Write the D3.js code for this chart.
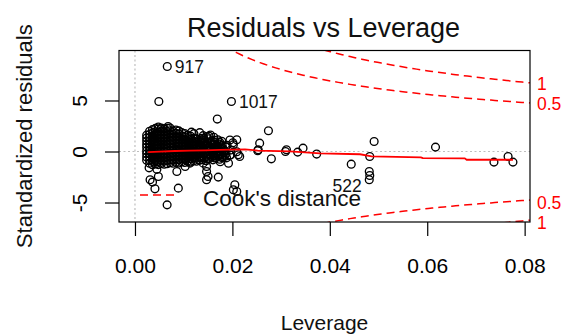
<!DOCTYPE html>
<html><head><meta charset="utf-8">
<script src="https://cdn.jsdelivr.net/npm/d3@7"></script>
<style>
html,body{margin:0;padding:0;background:#fff;}
svg{display:block;font-family:"Liberation Sans",Arial,Helvetica,sans-serif;}
</style></head><body>
<svg id="chart" width="566" height="336"></svg>
<script>
// ---------- values ----------
const xTicks = [0, 0.02, 0.04, 0.06, 0.08];
const xTickLabels = ["0.00", "0.02", "0.04", "0.06", "0.08"];
const yTicks = [-5, 0, 5];
const yTickLabels = ["-5", "0", "5"];

// Cook's distance contour levels and number of model coefficients
const cookLevels = [0.5, 1];
const cookLabels = ["0.5", "1"];
const nCoef = 4;

// observations flagged with their row names
const idNames = ["917", "1017", "522"];
const idLeverage = [0.00663, 0.0198, 0.0481];
const idResid = [8.33, 4.9, -2.77];

// bulk of the observations, grouped by leverage
const cloudLeverage = [0.0024, 0.0030, 0.0036, 0.0042, 0.0048, 0.0054, 0.0060, 0.0066, 0.0072,
  0.0078, 0.0084, 0.0090, 0.0096, 0.0102, 0.0108, 0.0114, 0.0120, 0.0126, 0.0132];
const cloudResid = [
  [-0.85, -0.55, -0.22, 0.08, 0.41, 0.7, 1.02, 1.33, 1.6],
  [-1.15, -0.82, -0.5, -0.2, 0.12, 0.43, 0.74, 1.05, 1.36, 1.66, 1.98],
  [-1.3, -0.98, -0.68, -0.37, -0.05, 0.27, 0.58, 0.9, 1.2, 1.51, 1.83, 2.14],
  [-1.22, -0.9, -0.58, -0.27, 0.05, 0.36, 0.67, 0.99, 1.3, 1.62, 1.93, 2.26],
  [-1.28, -0.95, -0.63, -0.31, 0.0, 0.31, 0.63, 0.95, 1.27, 1.58, 1.9, 2.21, 2.4],
  [-1.18, -0.86, -0.55, -0.23, 0.09, 0.4, 0.72, 1.03, 1.35, 1.66, 1.98, 2.3],
  [-1.25, -0.93, -0.61, -0.3, 0.02, 0.34, 0.65, 0.97, 1.28, 1.6, 1.91, 2.22],
  [-1.2, -0.88, -0.57, -0.25, 0.07, 0.38, 0.7, 1.01, 1.33, 1.64, 1.96, 2.27],
  [-1.1, -0.8, -0.48, -0.17, 0.15, 0.46, 0.78, 1.09, 1.41, 1.72, 2.03, 2.3],
  [-1.15, -0.84, -0.52, -0.2, 0.11, 0.43, 0.74, 1.06, 1.37, 1.69, 2.0],
  [-1.05, -0.74, -0.42, -0.1, 0.21, 0.53, 0.84, 1.16, 1.47, 1.79, 2.1],
  [-1.12, -0.8, -0.49, -0.17, 0.14, 0.46, 0.77, 1.09, 1.4, 1.72, 2.02],
  [-1.0, -0.69, -0.37, -0.06, 0.26, 0.57, 0.89, 1.2, 1.52, 1.85],
  [-1.08, -0.76, -0.45, -0.13, 0.18, 0.5, 0.81, 1.13, 1.44, 1.76],
  [-0.95, -0.64, -0.32, -0.01, 0.31, 0.62, 0.94, 1.25, 1.6],
  [-1.02, -0.7, -0.39, -0.07, 0.24, 0.56, 0.87, 1.19, 1.5],
  [-0.9, -0.58, -0.27, 0.05, 0.36, 0.68, 0.99, 1.3],
  [-0.96, -0.65, -0.33, -0.02, 0.3, 0.61, 0.93, 1.24],
  [-0.85, -0.53, -0.22, 0.1, 0.41, 0.73, 1.04]
];

// remaining observations as [leverage, standardized residual]
const sparsePoints = [
  [0.0049, 4.9], [0.0169, 3.18],
  [0.0138, -0.78], [0.0140, -0.4], [0.0137, -0.02], [0.0141, 0.36], [0.0139, 0.74], [0.0138, 1.12],
  [0.0146, -0.9], [0.0147, -0.5], [0.0145, -0.12], [0.0148, 0.27], [0.0146, 0.65], [0.0144, 1.05], [0.0147, 1.45],
  [0.0153, -0.68], [0.0155, -0.3], [0.0152, 0.08], [0.0154, 0.46], [0.0156, 0.85],
  [0.0160, -0.82], [0.0161, -0.44], [0.0159, -0.05], [0.0162, 0.33], [0.0160, 0.72], [0.0163, 1.1],
  [0.0167, -0.6], [0.0168, -0.2], [0.0166, 0.2], [0.0169, 0.58],
  [0.0174, -0.75], [0.0175, -0.35], [0.0173, 0.05], [0.0176, 0.45], [0.0174, 0.9],
  [0.0181, -0.5], [0.0183, -0.1], [0.0180, 0.32], [0.0188, -0.62], [0.0187, -0.2], [0.0189, 0.6],
  [0.0196, -0.35], [0.0197, 0.15],
  [0.0135, -0.6], [0.0136, -0.2], [0.0134, 0.18], [0.0136, 0.55], [0.0135, 0.93], [0.0137, 1.3],
  [0.0142, -0.62], [0.0143, -0.22], [0.0141, 0.16], [0.0143, 0.54], [0.0142, 0.92], [0.0141, 1.28],
  [0.0150, -0.7], [0.0151, -0.3], [0.0149, 0.1], [0.0151, 0.48], [0.0150, 0.86], [0.0151, 1.25],
  [0.0157, -0.5], [0.0158, -0.12], [0.0157, 0.27], [0.0158, 0.64], [0.0157, 1.02],
  [0.0164, -0.64], [0.0165, -0.25], [0.0163, 0.14], [0.0165, 0.52], [0.0164, 0.9],
  [0.0171, -0.45], [0.0171, -0.05], [0.0170, 0.35], [0.0172, 0.75],
  [0.0178, -0.6], [0.0178, -0.2], [0.0177, 0.2], [0.0179, 0.62],
  [0.0185, -0.35], [0.0184, 0.08], [0.0186, 0.45],
  [0.0140, 1.55], [0.0152, 1.5], [0.0162, 1.4], [0.0170, 1.15], [0.0178, 1.0],
  [0.0133, 1.85], [0.0155, 1.62], [0.0121, 1.75], [0.0068, 2.45], [0.0116, 1.9],
  [0.0195, 1.13], [0.0201, 0.85], [0.0209, -0.02], [0.0195, -0.34], [0.0180, -0.51], [0.0133, -0.83],
  [0.0209, 1.15], [0.0202, 0.66], [0.0212, -0.32], [0.0215, -0.49], [0.0253, 0.17],
  [0.0274, 2.03], [0.0256, 0.82], [0.0252, 0.07], [0.0280, -0.72], [0.0311, 0.17], [0.0309, 0.0],
  [0.0334, -0.06], [0.0345, 0.33], [0.0373, -0.25], [0.0444, -1.24], [0.0491, 0.98], [0.0482, -0.49],
  [0.0481, -1.96], [0.0482, -2.35],
  [0.0617, 0.43], [0.0737, -1.04], [0.0766, -0.49], [0.0776, -1.04],
  [0.0031, -2.77], [0.0048, -2.45], [0.0036, -3.0], [0.0041, -3.66], [0.0086, -1.96], [0.0103, -1.47],
  [0.0113, -1.14], [0.0089, -3.59], [0.0066, -5.23], [0.0029, -1.6], [0.0045, -1.75],
  [0.0147, -1.47], [0.0147, -1.96], [0.0150, -2.45], [0.0147, -2.77], [0.0140, -1.14], [0.0171, -2.51],
  [0.0205, -3.26], [0.0202, -3.75], [0.0209, -3.92], [0.0175, -1.0], [0.0192, -1.15]
];

// lowess smooth of residuals on leverage
const smoothLeverage = [0.0027, 0.0051, 0.0082, 0.0113, 0.0144, 0.0174, 0.0226, 0.0252, 0.0318,
  0.0380, 0.0462, 0.0486, 0.0587, 0.0591, 0.0677, 0.0681, 0.0776];
const smoothResid = [-0.06, -0.01, 0.05, 0.09, 0.11, 0.15, 0.21, 0.09, 0.02,
  -0.18, -0.27, -0.47, -0.57, -0.65, -0.67, -0.81, -0.81];

// ---------- layout ----------
const box = {left: 119, right: 530, top: 50.5, bottom: 222};
const font = {title: 27, axis: 21, lab: 21, ylab: 22, legend: 22.5, id: 17.5};
const red = "#FF0000";

const svg = d3.select("#chart");
const x = d3.scaleLinear().domain([-0.00328, 0.0811]).range([box.left, box.right]);
const y = d3.scaleLinear().domain([-6.91, 9.9]).range([box.bottom, box.top]);

svg.append("defs").append("clipPath").attr("id", "plotClip")
  .append("rect").attr("x", box.left).attr("y", box.top)
  .attr("width", box.right - box.left).attr("height", box.bottom - box.top);

const plot = svg.append("g").attr("clip-path", "url(#plotClip)");

// reference lines at zero
plot.append("line").attr("x1", box.left).attr("x2", box.right)
  .attr("y1", y(0)).attr("y2", y(0))
  .attr("stroke", "#BEBEBE").attr("stroke-width", 1.2).attr("stroke-dasharray", "2,2.5");
plot.append("line").attr("x1", x(0)).attr("x2", x(0))
  .attr("y1", box.top).attr("y2", box.bottom)
  .attr("stroke", "#BEBEBE").attr("stroke-width", 1.2).attr("stroke-dasharray", "2,2.5");

// points
const allPoints = [];
cloudLeverage.forEach((h, i) => cloudResid[i].forEach(r => allPoints.push([h, r])));
sparsePoints.forEach(p => allPoints.push(p));
idLeverage.forEach((h, i) => allPoints.push([h, idResid[i]]));

plot.append("g").selectAll("circle").data(allPoints).join("circle")
  .attr("cx", d => x(d[0])).attr("cy", d => y(d[1])).attr("r", 3.9)
  .attr("fill", "none").attr("stroke", "#000").attr("stroke-width", 1.35);

// smooth
plot.append("path")
  .datum(smoothLeverage.map((h, i) => [h, smoothResid[i]]))
  .attr("d", d3.line().x(d => x(d[0])).y(d => y(d[1])))
  .attr("fill", "none").attr("stroke", red).attr("stroke-width", 1.8);

// Cook's distance contours: r = ±sqrt(level * p * (1 - h) / h)
const allLev = allPoints.map(d => d[0]);
const hLo = Math.min(d3.min(allLev), d3.max(allLev) / 100);
const hHi = x.domain()[1];
const hh = d3.range(101).map(i => hLo + (hHi - hLo) * i / 100);
cookLevels.forEach(c => {
  [1, -1].forEach(s => {
    plot.append("path")
      .datum(hh.map(h => [h, s * Math.sqrt(c * nCoef * (1 - h) / h)]))
      .attr("d", d3.line().x(d => x(d[0])).y(d => y(Math.max(-50, Math.min(50, d[1])))))
      .attr("fill", "none").attr("stroke", red).attr("stroke-width", 1.5)
      .attr("stroke-dasharray", "8,5");
  });
});

// plot frame
svg.append("rect").attr("x", box.left).attr("y", box.top)
  .attr("width", box.right - box.left).attr("height", box.bottom - box.top)
  .attr("fill", "none").attr("stroke", "#000").attr("stroke-width", 1.2);

// x axis
const xAxis = svg.append("g").attr("transform", `translate(0,${box.bottom})`)
  .call(d3.axisBottom(x).tickValues(xTicks).tickFormat((d, i) => xTickLabels[i])
    .tickSize(14).tickPadding(22));
xAxis.select(".domain").remove();
xAxis.selectAll(".tick line").attr("stroke", "#000").attr("stroke-width", 1.2);
xAxis.selectAll(".tick text").attr("font-size", font.axis).attr("fill", "#000")
  .attr("font-family", null);

// y axis, labels parallel to the axis
const yAxis = svg.append("g").attr("transform", `translate(${box.left},0)`)
  .call(d3.axisLeft(y).tickValues(yTicks).tickFormat((d, i) => yTickLabels[i]).tickSize(14));
yAxis.select(".domain").remove();
yAxis.selectAll(".tick line").attr("stroke", "#000").attr("stroke-width", 1.2);
yAxis.selectAll(".tick text").attr("font-size", font.axis).attr("fill", "#000")
  .attr("font-family", null)
  .attr("x", null).attr("dy", null).attr("text-anchor", "middle")
  .attr("transform", `translate(${87 - box.left},0) rotate(-90)`);

// right-hand contour labels
const xmax = Math.min(0.99, hHi);
cookLevels.forEach((c, i) => {
  const rr = Math.sqrt(c * nCoef * (1 - xmax) / xmax);
  [1, -1].forEach(s => {
    svg.append("text").attr("x", box.right + 7).attr("y", y(s * rr) + font.id * 0.36 + (s < 0 ? 2.5 : 1))
      .attr("font-size", font.id).attr("fill", red).text(cookLabels[i]);
  });
});

// row-name labels: right of the point unless it lies in the right half of their range
const idMid = (d3.min(idLeverage) + d3.max(idLeverage)) / 2;
idNames.forEach((name, i) => {
  const left = idLeverage[i] > idMid;
  svg.append("text")
    .attr("x", x(idLeverage[i]) + (left ? -7.5 : 7.5))
    .attr("y", y(idResid[i]) + font.id * 0.36 + (left ? 6 : 0.5))
    .attr("text-anchor", left ? "end" : "start")
    .attr("font-size", font.id).attr("fill", "#111").text(name);
});

// legend
const legY = 195;
svg.append("line").attr("x1", 140).attr("x2", 176).attr("y1", legY).attr("y2", legY)
  .attr("stroke", red).attr("stroke-width", 1.5).attr("stroke-dasharray", "8,5");
svg.append("text").attr("x", 203).attr("y", 205.5)
  .attr("font-size", font.legend).attr("fill", "#111").text("Cook's distance");

// titles
const cx = (box.left + box.right) / 2;
svg.append("text").attr("x", cx - 1).attr("y", 37).attr("text-anchor", "middle")
  .attr("font-size", font.title).attr("fill", "#111").text("Residuals vs Leverage");
svg.append("text").attr("x", cx).attr("y", 329.5).attr("text-anchor", "middle")
  .attr("font-size", font.lab).attr("fill", "#111").text("Leverage");
svg.append("text").attr("transform", `translate(31.5,${(box.top + box.bottom) / 2}) rotate(-90)`)
  .attr("text-anchor", "middle")
  .attr("font-size", font.ylab).attr("fill", "#111").text("Standardized residuals");
</script>
</body></html>
